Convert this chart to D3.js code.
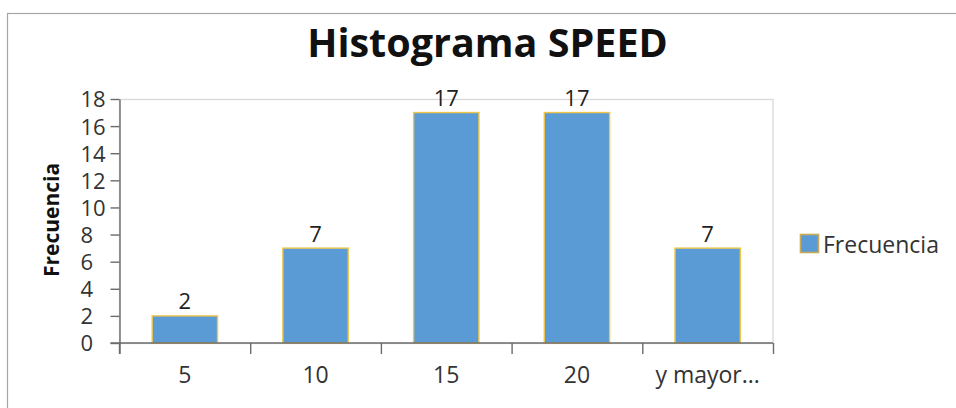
<!DOCTYPE html>
<html><head><meta charset="utf-8">
<script src="https://cdn.jsdelivr.net/npm/d3@7"></script>
<style>
html,body{margin:0;padding:0;background:#fff;}
text{font-family:"Open Sans","Noto Sans",sans-serif;}
</style></head>
<body><svg id="chart" width="956" height="408"></svg>
<script>
const categories = ["5", "10", "15", "20", "y mayor..."];
const frequencies = [2, 7, 17, 17, 7];
const yTicks = [0, 2, 4, 6, 8, 10, 12, 14, 16, 18];
const title = "Histograma SPEED";
const yTitle = "Frecuencia";
const legendLabel = "Frecuencia";

const svg = d3.select("#chart");
const plot = {left: 119.5, right: 773, top: 99, bottom: 343};

// outer chart border
svg.append("rect").attr("x", 7.5).attr("y", 13.5).attr("width", 1000).attr("height", 600)
  .attr("fill", "#fff").attr("stroke", "#a6a6a6").attr("stroke-width", 1.2);

const x = d3.scaleBand().domain(categories).range([plot.left, plot.right])
  .paddingInner(0.5).paddingOuter(0.25);
const xEdges = d3.scaleLinear().domain([0, categories.length]).range([plot.left, plot.right]);
const y = d3.scaleLinear().domain([0, 18]).range([plot.bottom, plot.top]);

// plot area border (light gray)
svg.append("rect").attr("x", plot.left).attr("y", y(18) + 0.5)
  .attr("width", plot.right - plot.left).attr("height", plot.bottom - y(18))
  .attr("fill", "none").attr("stroke", "#d9d9d9").attr("stroke-width", 1.3);

// bars
svg.append("g").selectAll("rect").data(frequencies).join("rect")
  .attr("x", (d, i) => x(categories[i]))
  .attr("y", d => y(d))
  .attr("width", x.bandwidth())
  .attr("height", d => y(0) - y(d))
  .attr("fill", "#5b9bd5")
  .attr("stroke", "#f0c64a").attr("stroke-width", 1.4);

// data labels
svg.append("g").selectAll("text").data(frequencies).join("text")
  .attr("x", (d, i) => x(categories[i]) + x.bandwidth() / 2)
  .attr("y", d => y(d) - 6.5)
  .attr("text-anchor", "middle")
  .attr("font-size", 22).attr("fill", "#222")
  .text(d => d);

// y axis
const yAxis = svg.append("g").attr("transform", `translate(${plot.left},0)`)
  .call(d3.axisLeft(y).tickValues(yTicks).tickSize(9).tickSizeOuter(0));
yAxis.select(".domain").attr("stroke", "#6b6b6b").attr("stroke-width", 1.4);
yAxis.selectAll(".tick line").attr("stroke", "#6b6b6b").attr("stroke-width", 1.4);
yAxis.selectAll(".tick text").attr("text-anchor", "start").attr("x", -39)
  .attr("dy", "0.36em")
  .attr("font-size", 22).attr("fill", "#333").attr("font-family", "Open Sans");

// x axis: tick marks at band edges
const xAxisTicks = svg.append("g").attr("transform", `translate(0,${plot.bottom})`)
  .call(d3.axisBottom(xEdges).tickValues(d3.range(categories.length + 1)).tickSize(11).tickFormat(""));
xAxisTicks.select(".domain").remove();
xAxisTicks.selectAll(".tick line").attr("stroke", "#6b6b6b").attr("stroke-width", 1.4);
// x axis line + labels
const xAxis = svg.append("g").attr("transform", `translate(0,${plot.bottom})`)
  .call(d3.axisBottom(x).tickSize(0).tickSizeOuter(0).tickPadding(0));
xAxis.select(".domain").attr("d", `M${plot.left - 9},0H${plot.right}`)
  .attr("stroke", "#6b6b6b").attr("stroke-width", 1.4);
xAxis.selectAll(".tick text").attr("dy", null).attr("y", 40)
  .attr("font-size", 23).attr("fill", "#333").attr("font-family", "Open Sans");

// y extension below axis
svg.append("line").attr("x1", plot.left).attr("x2", plot.left)
  .attr("y1", plot.bottom).attr("y2", plot.bottom + 11)
  .attr("stroke", "#6b6b6b").attr("stroke-width", 1.4);

// title
svg.append("text").attr("x", 487.5).attr("y", 57).attr("text-anchor", "middle")
  .attr("font-size", 39.5).attr("font-weight", "bold").attr("fill", "#111")
  .text(title);

// y axis title
svg.append("text").attr("transform", "translate(59,220) rotate(-90)")
  .attr("text-anchor", "middle").attr("font-size", 21).attr("font-weight", "bold")
  .attr("fill", "#111").text(yTitle);

// legend
const lg = svg.append("g");
lg.append("rect").attr("x", 800.5).attr("y", 234.5).attr("width", 18).attr("height", 18)
  .attr("fill", "#5b9bd5").attr("stroke", "#c9aa5a").attr("stroke-width", 1.6);
lg.append("text").attr("x", 823).attr("y", 253).attr("font-size", 23)
  .attr("fill", "#333").text(legendLabel);
</script></body></html>
